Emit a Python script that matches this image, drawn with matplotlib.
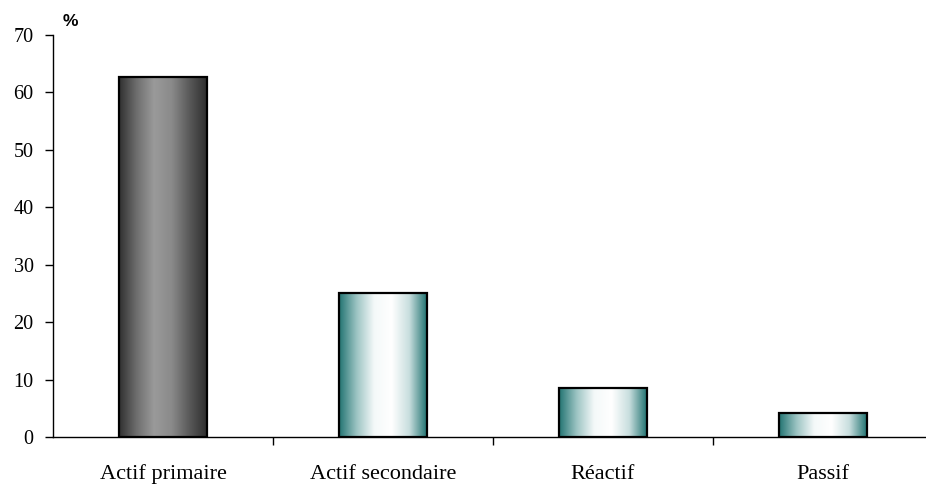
import numpy as np
import matplotlib
matplotlib.use("Agg")
import matplotlib.pyplot as plt
from matplotlib.colors import LinearSegmentedColormap

categories = ["Actif primaire", "Actif secondaire", "Réactif", "Passif"]
values = [62.7, 25.1, 8.5, 4.2]
y_ticks = [0, 10, 20, 30, 40, 50, 60, 70]

grey_cmap = LinearSegmentedColormap.from_list(
    "grey_bar", ["#303030", "#6e6e6e", "#9a9a9a", "#8a8a8a", "#5a5a5a", "#2e2e2e"])
teal_cmap = LinearSegmentedColormap.from_list(
    "teal_bar", ["#237472", "#9cc4c3", "#f4f9f9", "#ffffff", "#c8dede", "#237472"])
bar_maps = [grey_cmap, teal_cmap, teal_cmap, teal_cmap]

fig = plt.figure(figsize=(9.26, 4.86), dpi=100)
ax = fig.add_axes([53 / 926, 49 / 486, 880 / 926, 402 / 486])

x = np.arange(len(categories))
width = 0.4
bars = ax.bar(x, values, width=width, facecolor="none", edgecolor="black",
              linewidth=1.6, zorder=3)
gradient = np.linspace(0, 1, 256).reshape(1, -1)
for bar, cmap in zip(bars, bar_maps):
    x0 = bar.get_x()
    x1 = x0 + bar.get_width()
    h = bar.get_height()
    im = ax.imshow(gradient, cmap=cmap, extent=(x0, x1, 0, h), aspect="auto",
                   interpolation="bicubic", zorder=2)
    im.set_clip_path(bar)

ax.set_xlim(-0.5, len(categories) - 0.5)
ax.set_ylim(0, 70)
ax.set_yticks(y_ticks)
ax.set_yticklabels([str(t) for t in y_ticks], family="Liberation Serif", fontsize=14.5)
ax.set_xticks(x[:-1] + 0.5)
ax.set_xticklabels([])
ax.tick_params(axis="y", direction="out", length=6, width=1, pad=8)
ax.tick_params(axis="x", direction="out", length=6, width=1)
for xi, label in zip(x, categories):
    ax.text(xi, -7.4, label, ha="center", va="baseline", family="Liberation Serif",
            fontsize=16, clip_on=False)
ax.spines[["top", "right"]].set_visible(False)
ax.spines["left"].set_linewidth(1)
ax.spines["bottom"].set_linewidth(1)
fig.text(63 / 926, 1 - 22 / 486, "%", family="Liberation Sans", weight="bold",
         fontsize=12.5, va="center", ha="left")

fig.savefig("out.png", dpi=100)
